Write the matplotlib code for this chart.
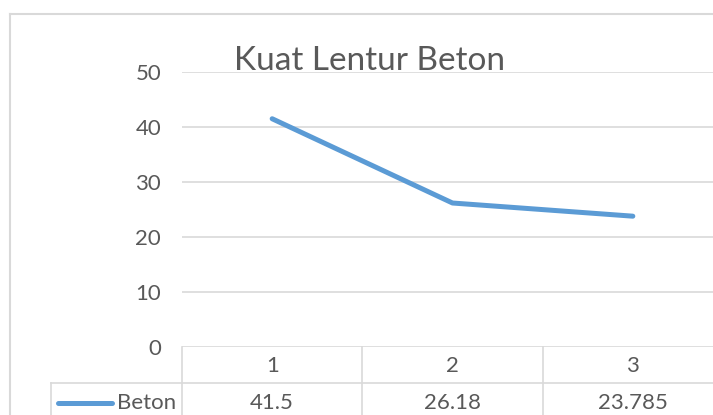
"""Kuat Lentur Beton: Excel-style line chart with data table underneath."""

import matplotlib

matplotlib.use("Agg")
import matplotlib.pyplot as plt
from matplotlib.lines import Line2D
from matplotlib.transforms import blended_transform_factory

categories = ["1", "2", "3"]
series_name = "Beton"
values = [41.5, 26.18, 23.785]
value_labels = ["41.5", "26.18", "23.785"]
y_ticks = [0, 10, 20, 30, 40, 50]

W, H = 713, 415
LINE_COLOR = "#5B9BD5"
GRID_COLOR = "#D9D9D9"
TEXT_COLOR = "#595959"
LABEL_SIZE = 16

plt.rcParams["font.family"] = ["Lato", "DejaVu Sans"]

fig = plt.figure(figsize=(W / 100, H / 100), dpi=100)


def fx(px):
    return px / W


def fy(py):
    return 1 - py / H


# plot area spans past the right edge (the reference is cropped there)
left, right, top, bottom = 182, 723, 72, 347
ax = fig.add_axes([fx(left), fy(bottom), fx(right - left), fy(top) - fy(bottom)])

x = list(range(len(categories)))
ax.plot(x, values, color=LINE_COLOR, linewidth=3.6, solid_capstyle="round",
        solid_joinstyle="round", zorder=3)

ax.set_xlim(-0.5, len(categories) - 0.5)
ax.set_ylim(0, 50)
ax.set_yticks(y_ticks)
ax.set_yticklabels([str(t) for t in y_ticks])
ax.tick_params(axis="y", length=0, pad=15, labelsize=LABEL_SIZE, labelcolor=TEXT_COLOR)
ax.set_xticks([])
ax.grid(axis="y", color=GRID_COLOR, linewidth=1.2)
ax.set_axisbelow(True)
for s in ax.spines.values():
    s.set_visible(False)

# chart area border
fig.add_artist(Line2D([fx(10), fx(10)], [fy(14), 0], color=GRID_COLOR, linewidth=1.5))
fig.add_artist(Line2D([fx(10), 1], [fy(14), fy(14)], color=GRID_COLOR, linewidth=1.5))

fig.text(fx(369), fy(61), "Kuat Lentur Beton", ha="center", va="center",
         fontsize=24, color=TEXT_COLOR)

# data table
tr = blended_transform_factory(ax.transData, fig.transFigure)
row_y = 383
edges = [i - 0.5 for i in range(len(categories) + 1)]
for e in edges:
    fig.add_artist(Line2D([e, e], [fy(bottom), 0], transform=tr,
                          color=GRID_COLOR, linewidth=1.2, clip_on=False))
fig.add_artist(Line2D([fx(51), 1], [fy(row_y), fy(row_y)], color=GRID_COLOR,
                      linewidth=1.2))
fig.add_artist(Line2D([fx(51), fx(51)], [fy(row_y), 0], color=GRID_COLOR,
                      linewidth=1.2))

for i, (cat, lab) in enumerate(zip(categories, value_labels)):
    fig.text(i, fy(366), cat, transform=tr, ha="center", va="center",
             fontsize=LABEL_SIZE, color=TEXT_COLOR)
    fig.text(i, fy(403), lab, transform=tr, ha="center", va="center",
             fontsize=LABEL_SIZE, color=TEXT_COLOR)

fig.add_artist(Line2D([fx(58), fx(112)], [fy(403), fy(403)], color=LINE_COLOR,
                      linewidth=3.6, solid_capstyle="round"))
fig.text(fx(176), fy(403), series_name, ha="right", va="center",
         fontsize=LABEL_SIZE, color=TEXT_COLOR)

fig.savefig("out.png", dpi=100)
